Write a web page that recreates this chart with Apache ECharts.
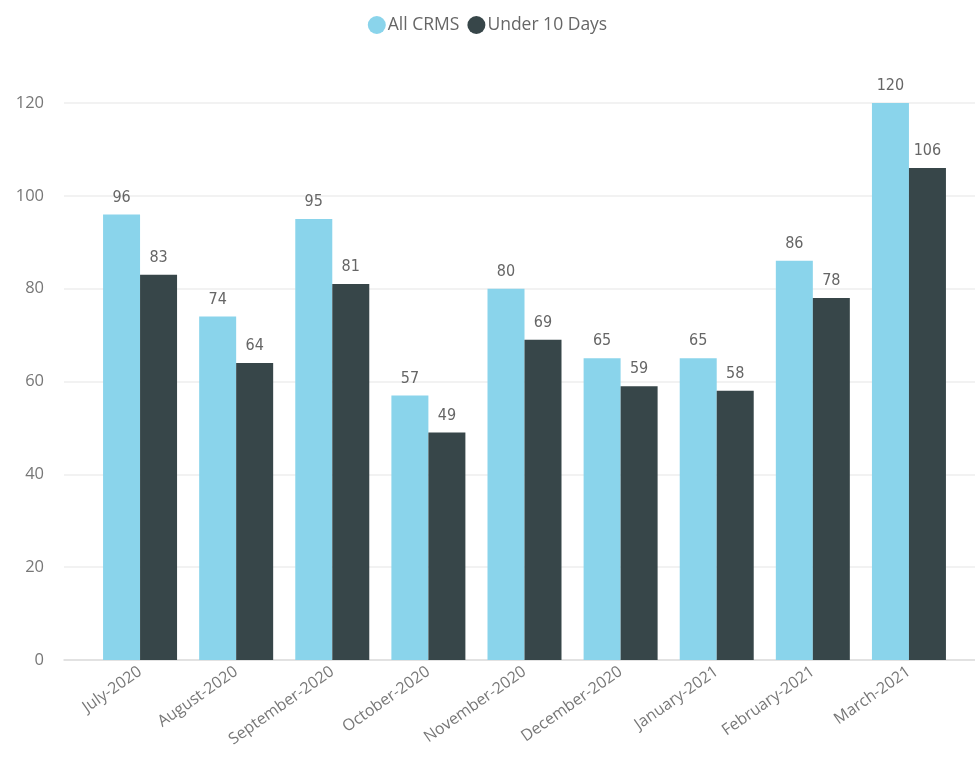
<!DOCTYPE html>
<html><head><meta charset="utf-8">
<script src="https://cdn.jsdelivr.net/npm/echarts@6/dist/echarts.min.js"></script>
<style>html,body{margin:0;padding:0;background:#fff}#c{width:975px;height:763px}</style>
</head><body><div id="c"></div>
<script>
const categories = ['July-2020','August-2020','September-2020','October-2020','November-2020','December-2020','January-2021','February-2021','March-2021'];
const allCrms = [96,74,95,57,80,65,65,86,120];
const under10Days = [83,64,81,49,69,59,58,78,106];
const yTicks = {min:0, max:120, interval:20};

const chart = echarts.init(document.getElementById('c'));
const lbl = {show:true, position:'top', distance:9, color:'#666', fontSize:16, fontFamily:'DejaVu Sans Condensed, Roboto, sans-serif'};
chart.setOption({
  animation:false,
  legend:{top:11, left:'center', icon:'circle', itemWidth:18, itemHeight:18, itemGap:8,
    textStyle:{color:'#666', fontSize:17.5, fontFamily:'Open Sans, sans-serif', padding:[0,0,0,-3]}},
  grid:[
    {left:92, right:18, top:103, bottom:103},
    {left:64, right:0, top:103, bottom:103}
  ],
  xAxis:[
    {type:'category', data:categories, gridIndex:0,
      axisLine:{show:false}, axisTick:{show:false},
      axisLabel:{rotate:35, color:'#777', fontSize:16, fontFamily:'Open Sans, sans-serif', margin:10, interval:0}},
    {type:'value', gridIndex:1, min:0, max:1, axisLabel:{show:false}, axisTick:{show:false}, splitLine:{show:false},
      axisLine:{show:true, lineStyle:{color:'#ddd', width:1.5}}}
  ],
  yAxis:[
    {type:'value', gridIndex:0, min:yTicks.min, max:yTicks.max, interval:yTicks.interval,
      axisLabel:{show:false}, splitLine:{show:false}, axisLine:{show:false}, axisTick:{show:false}},
    {type:'value', gridIndex:1, min:yTicks.min, max:yTicks.max, interval:yTicks.interval,
      axisLabel:{color:'#777', fontSize:16.5, fontFamily:'Open Sans, sans-serif', margin:20},
      axisLine:{show:false}, axisTick:{show:false},
      splitLine:{lineStyle:{color:'#eee', width:1.5}}}
  ],
  series:[
    {name:'All CRMS', type:'bar', data:allCrms, barWidth:37, barGap:'0%', itemStyle:{color:'#8AD4EB'}, label:lbl, z:3},
    {name:'Under 10 Days', type:'bar', data:under10Days, barWidth:37, barGap:'0%', itemStyle:{color:'#374649'}, label:lbl, z:3}
  ]
});
</script></body></html>
